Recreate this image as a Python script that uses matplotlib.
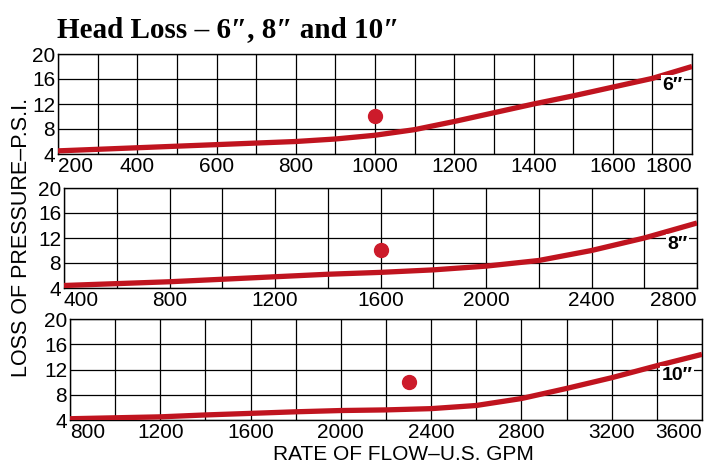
import matplotlib
matplotlib.use("Agg")
import matplotlib.pyplot as plt

# (local grid of each panel)
flow_6 = [200, 300, 400, 500, 600, 700, 800, 900, 1000, 1100, 1200, 1300, 1400, 1500, 1600, 1700, 1800]
loss_6 = [4.5, 4.75, 5.0, 5.25, 5.5, 5.75, 6.0, 6.4, 7.0, 7.9, 9.2, 10.6, 12.0, 13.3, 14.7, 16.1, 18.0]

flow_8 = [400, 600, 800, 1000, 1200, 1400, 1600, 1800, 2000, 2200, 2400, 2600, 2800]
loss_8 = [4.4, 4.7, 5.0, 5.4, 5.8, 6.2, 6.5, 6.9, 7.5, 8.4, 10.0, 12.0, 14.4]

flow_10 = [800, 1000, 1200, 1400, 1600, 1800, 2000, 2200, 2400, 2600, 2800, 3000, 3200, 3400, 3600]
loss_10 = [4.2, 4.35, 4.5, 4.8, 5.05, 5.3, 5.5, 5.6, 5.8, 6.3, 7.4, 9.0, 10.7, 12.6, 14.4]

dot_flow = [1000, 1600, 2300]
dot_loss = [10.0, 10.0, 10.0]

pipe_labels = ["6\u2033", "8\u2033", "10\u2033"]
pipe_label_y = [15.0, 11.0, 11.0]

x_ranges = [(200, 1800, 200, 100), (400, 2800, 400, 200), (800, 3600, 400, 200)]
y_ticks = [4, 8, 12, 16, 20]

series = [(flow_6, loss_6), (flow_8, loss_8), (flow_10, loss_10)]

red = "#c0141f"
sans = ["Liberation Sans", "DejaVu Sans"]
serif = ["Liberation Serif", "DejaVu Serif"]

fig = plt.figure(figsize=(7.12, 4.65), dpi=100)

# axes rectangles in pixels: left, top, right, bottom
rects = [(58, 54, 692, 154), (64, 188, 697, 288), (70, 319, 702, 420)]
W, H = 712, 465

for i, (l, t, r, b) in enumerate(rects):
    ax = fig.add_axes([l / W, 1 - b / H, (r - l) / W, (b - t) / H])
    x0, x1, maj, mn = x_ranges[i]
    fx, fy = series[i]
    ax.plot(fx, fy, color=red, lw=3.8, solid_capstyle="butt", zorder=3)
    ax.plot(dot_flow[i], dot_loss[i], "o", color="#cc1b2b", ms=10, zorder=4)
    ax.set_xlim(x0, x1)
    ax.set_ylim(4, 20)
    ax.set_xticks(list(range(x0, x1 + 1, maj)))
    ax.set_xticks(list(range(x0, x1 + 1, mn)), minor=True)
    ax.set_yticks(y_ticks)
    ax.grid(which="both", color="black", lw=0.9)
    ax.set_axisbelow(True)
    ax.tick_params(which="both", length=0)
    ax.tick_params(axis="x", pad=2)
    ax.tick_params(axis="y", pad=2)
    for s in ax.spines.values():
        s.set_linewidth(1.0)
        s.set_color("black")
    for lab in ax.get_xticklabels() + ax.get_yticklabels():
        lab.set_fontsize(15)
        lab.set_family(sans)
    xl = ax.get_xticklabels()
    xl[0].set_ha("left")
    xl[-1].set_ha("right")
    ax.text(0.985, pipe_label_y[i], pipe_labels[i], transform=ax.get_yaxis_transform(),
            ha="right", va="center", fontsize=14, fontweight="bold", family=sans,
            bbox=dict(facecolor="white", edgecolor="none", pad=1), zorder=5)

fig.text(57 / W, 1 - 30 / H, "Head Loss \u2013 6\u2033, 8\u2033 and 10\u2033",
         ha="left", va="center", fontsize=21, fontweight="bold", family=serif)
fig.text(22 / W, 1 - 237 / H, "LOSS OF PRESSURE\u2013P.S.I.", rotation=90,
         ha="center", va="center", fontsize=15.5, family=sans)
fig.text(403 / W, 1 - 454 / H, "RATE OF FLOW\u2013U.S. GPM",
         ha="center", va="center", fontsize=15, family=sans)

fig.savefig("out.png", dpi=100)
